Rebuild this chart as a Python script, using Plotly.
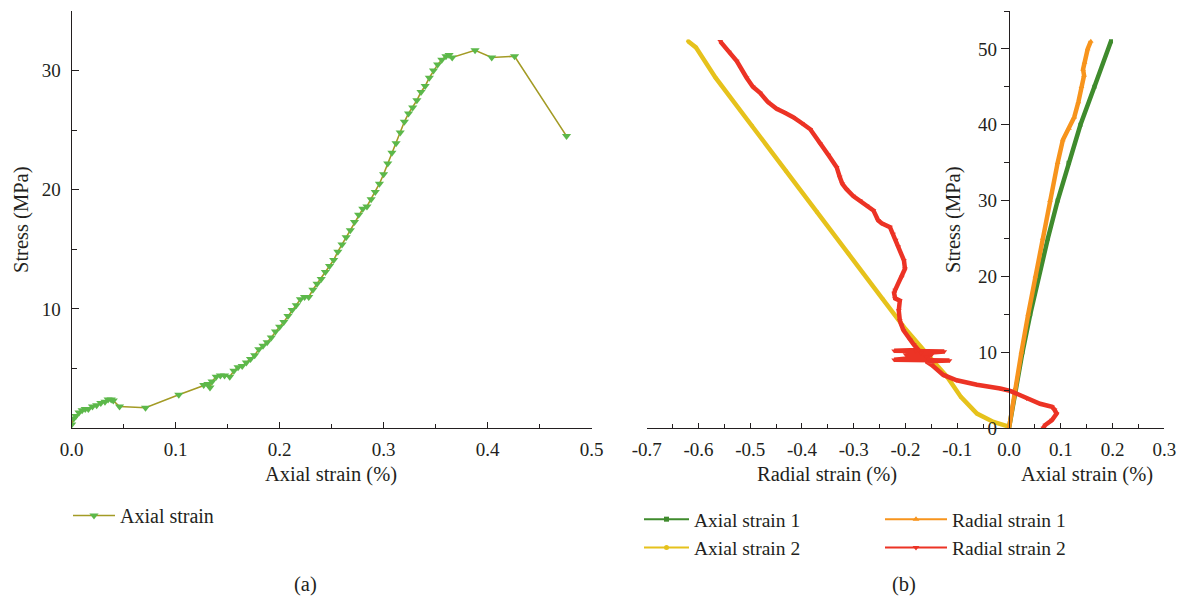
import plotly.graph_objects as go

W, H = 1186, 598
FONT = "Liberation Serif"
INK = "#231f20"

# ---------------- data: panel (a) ----------------
a_strain = [0.000, 0.002, 0.004, 0.007, 0.010, 0.013, 0.016, 0.020, 0.024, 0.028,
            0.032, 0.035, 0.038, 0.040, 0.046, 0.071, 0.103, 0.127, 0.131, 0.133,
            0.135, 0.139, 0.143, 0.147, 0.152, 0.156, 0.160, 0.164, 0.168, 0.172,
            0.176, 0.180, 0.184, 0.188, 0.192, 0.196, 0.200, 0.204, 0.208, 0.212,
            0.216, 0.220, 0.224, 0.228, 0.232, 0.236, 0.240, 0.244, 0.248, 0.252,
            0.256, 0.260, 0.264, 0.268, 0.272, 0.276, 0.280, 0.284, 0.288, 0.292,
            0.296, 0.300, 0.304, 0.308, 0.312, 0.316, 0.320, 0.324, 0.328, 0.332,
            0.336, 0.340, 0.344, 0.348, 0.352, 0.356, 0.360, 0.363, 0.366, 0.388,
            0.404, 0.426, 0.476]
a_stress = [0.3, 0.8, 1.0, 1.3, 1.5, 1.6, 1.6, 1.8, 1.9, 2.1,
            2.2, 2.4, 2.4, 2.3, 1.8, 1.7, 2.8, 3.6, 3.7, 3.4,
            3.9, 4.3, 4.4, 4.4, 4.3, 4.8, 5.1, 5.2, 5.5, 5.8,
            6.1, 6.6, 6.9, 7.2, 7.6, 8.1, 8.5, 8.9, 9.4, 9.9,
            10.3, 10.8, 11.0, 11.0, 11.6, 12.1, 12.5, 13.1, 13.6, 14.1,
            14.8, 15.4, 16.0, 16.6, 17.3, 17.9, 18.4, 18.6, 19.2, 19.8,
            20.5, 21.3, 22.2, 23.1, 23.9, 24.8, 25.7, 26.4, 26.9, 27.5,
            28.2, 28.7, 29.4, 30.0, 30.5, 30.9, 31.2, 31.3, 31.1, 31.7,
            31.1, 31.2, 24.5]

# ---------------- data: panel (b) ----------------
ax1_strain = [0.0, 0.012, 0.026, 0.041, 0.057, 0.075, 0.094, 0.115, 0.138, 0.165, 0.197]
ax1_stress = [0, 5, 10, 15, 20, 25, 30, 35, 40, 45, 51]

rad1_strain = [0.0, 0.011, 0.024, 0.037, 0.051, 0.065, 0.079, 0.094, 0.104, 0.116,
               0.126, 0.134, 0.140, 0.145, 0.143, 0.146, 0.152, 0.158]
rad1_stress = [0, 5, 10, 15, 20, 25, 30, 35, 38, 39.5,
               41, 43, 45, 46.5, 47.3, 48.2, 50, 51]

ax2_strain = [0.0, -0.001, -0.030, -0.062, -0.093, -0.119, -0.145, -0.171, -0.203,
              -0.244, -0.310, -0.371, -0.431, -0.497, -0.567, -0.605, -0.620]
ax2_stress = [0.0, 0.2, 0.8, 1.9, 4.1, 6.7, 8.7, 10.7, 13.3,
              17.0, 23.0, 28.5, 33.9, 39.9, 46.2, 50.2, 51.0]

rad2_strain = [0.066, 0.070, 0.083, 0.092, 0.088, 0.083, 0.060, 0.034, 0.002, -0.017,
               -0.062, -0.101, -0.127, -0.149, -0.160, -0.115, -0.222, -0.160, -0.150,
               -0.200, -0.170, -0.125, -0.222, -0.180, -0.175, -0.184, -0.191, -0.204,
               -0.208, -0.211, -0.213, -0.211, -0.220, -0.222, -0.220, -0.207, -0.201,
               -0.203, -0.214, -0.219, -0.224, -0.230, -0.246, -0.253, -0.262, -0.275,
               -0.288, -0.301, -0.314, -0.322, -0.327, -0.333, -0.349, -0.365, -0.384,
               -0.400, -0.417, -0.434, -0.449, -0.466, -0.481, -0.495, -0.507, -0.526,
               -0.541, -0.558]
rad2_stress = [0.0, 0.4, 1.05, 1.9, 2.4, 2.8, 3.2, 3.9, 4.9, 5.2,
               5.7, 6.3, 7.0, 8.3, 8.8, 8.9, 9.0, 9.4, 9.6,
               9.7, 9.9, 10.1, 10.2, 10.2, 10.3, 11.0, 11.6, 12.9,
               13.6, 14.2, 15.5, 16.8, 17.1, 17.8, 18.2, 19.9, 21.0,
               22.1, 23.9, 24.8, 25.6, 26.5, 27.0, 27.4, 28.7, 29.3,
               30.0, 30.6, 31.5, 32.2, 33.1, 34.4, 36.0, 37.5, 39.4,
               40.2, 41.0, 41.6, 42.1, 43.0, 44.2, 45.0, 46.2, 48.4,
               49.6, 51.0]

# tick labels
a_xticks = [0.0, 0.1, 0.2, 0.3, 0.4, 0.5]
a_yticks = [10, 20, 30]
b_xticks = [-0.7, -0.6, -0.5, -0.4, -0.3, -0.2, -0.1, 0.0, 0.1, 0.2, 0.3]
b_xticktext = ["-0.7", "-0.6", "-0.5", "-0.4", "-0.3", "-0.2", "-0.1", "0.0", "0.1", "0.2", "0.3"]
b_yticks = [0, 10, 20, 30, 40, 50]

# series styling for panel (b): name, x, y, colour, marker, legend
b_series = [
    ("Axial strain 1", ax1_strain, ax1_stress, "#3f8b2d", "square", 5, "legend2"),
    ("Axial strain 2", ax2_strain, ax2_stress, "#e6c21c", "circle", 5, "legend2"),
    ("Radial strain 1", rad1_strain, rad1_stress, "#f7941d", "triangle-up", 6, "legend3"),
    ("Radial strain 2", rad2_strain, rad2_stress, "#ec3325", "triangle-down", 6, "legend3"),
]


def fx(p):
    return p / W


def fy(p):
    return 1 - p / H


fig = go.Figure()

fig.add_trace(go.Scatter(
    x=a_strain, y=a_stress, name="Axial strain", mode="lines+markers",
    line=dict(color="#a39b25", width=1.6),
    marker=dict(symbol="triangle-down", size=8, color="#5cb84a"),
    xaxis="x", yaxis="y", legend="legend"))

for name, xs, ys, col, sym, msz, leg in b_series:
    # thick drawn curve
    fig.add_trace(go.Scatter(
        x=xs, y=ys, name=name, mode="lines+markers", showlegend=False,
        line=dict(color=col, width=4.5),
        marker=dict(symbol=sym, size=msz - 1, color=col),
        xaxis="x2", yaxis="y2"))
    # legend entry (thin line with marker, as in the original key)
    fig.add_trace(go.Scatter(
        x=[None], y=[None], name=name, mode="lines+markers",
        line=dict(color=col, width=2),
        marker=dict(symbol=sym, size=msz, color=col),
        xaxis="x2", yaxis="y2", legend=leg))

axis_common = dict(showline=True, linecolor=INK, linewidth=1.3, showgrid=False,
                   zeroline=False, tickcolor=INK, tickwidth=1.3, automargin=False,
                   tickfont=dict(family=FONT, size=19, color=INK))

y_dom = [fy(428), fy(11)]
leg_font = dict(family=FONT, size=20, color=INK)

fig.update_layout(
    width=W, height=H,
    margin=dict(l=0, r=0, t=0, b=0, autoexpand=False),
    paper_bgcolor="white", plot_bgcolor="white",
    font=dict(family=FONT, size=20, color=INK),
    xaxis=dict(domain=[fx(71.7), fx(591.5)], range=[0, 0.5], anchor="y",
               tickvals=a_xticks, tickformat=".1f", ticks="inside", ticklen=6,
               minor=dict(dtick=0.05, tick0=0, ticks="inside", ticklen=4,
                          tickcolor=INK, tickwidth=1.3),
               ticklabelstandoff=4, **axis_common),
    yaxis=dict(domain=y_dom, range=[0, 35], anchor="x",
               tickvals=a_yticks, ticks="inside", ticklen=7,
               minor=dict(dtick=5, tick0=0, ticks="inside", ticklen=5,
                          tickcolor=INK, tickwidth=1.3),
               ticklabelstandoff=6, **axis_common),
    xaxis2=dict(domain=[fx(646.7), fx(1164.3)], range=[-0.7, 0.3], anchor="y2",
                tickvals=b_xticks, ticktext=b_xticktext, ticks="inside", ticklen=5,
                minor=dict(dtick=0.05, tick0=0, ticks="inside", ticklen=3.5,
                           tickcolor=INK, tickwidth=1.3),
                ticklabelstandoff=4, **axis_common),
    yaxis2=dict(domain=y_dom, range=[0, 55], anchor="free", position=fx(1009),
                tickvals=b_yticks, ticks="outside", ticklen=8,
                minor=dict(dtick=5, tick0=0, ticks="outside", ticklen=4.5,
                           tickcolor=INK, tickwidth=1.3),
                **axis_common),
    legend=dict(x=fx(68), y=fy(496), xanchor="left", yanchor="top", itemwidth=42,
                bgcolor="rgba(0,0,0,0)", font=leg_font),
    legend2=dict(x=fx(639), y=fy(500), xanchor="left", yanchor="top", itemwidth=45,
                 tracegroupgap=0, bgcolor="rgba(0,0,0,0)",
                 font=dict(family=FONT, size=19.5, color=INK)),
    legend3=dict(x=fx(880), y=fy(500), xanchor="left", yanchor="top", itemwidth=62,
                 tracegroupgap=0, bgcolor="rgba(0,0,0,0)",
                 font=dict(family=FONT, size=19.5, color=INK)),
    showlegend=True,
)


def ann(text, x, y, angle=0):
    return dict(text=text, x=fx(x), y=fy(y), xref="paper", yref="paper",
                xanchor="center", yanchor="middle", showarrow=False, textangle=angle,
                font=dict(family=FONT, size=20.5, color=INK))


fig.update_layout(annotations=[
    ann("Stress (MPa)", 21, 220, -90),
    ann("Axial strain (%)", 331, 474),
    ann("Stress (MPa)", 953, 220, -90),
    ann("Radial strain (%)", 827, 474),
    ann("Axial strain (%)", 1087, 474),
    ann("(a)", 305, 584),
    ann("(b)", 904, 584),
])

fig.write_html("out.html")
